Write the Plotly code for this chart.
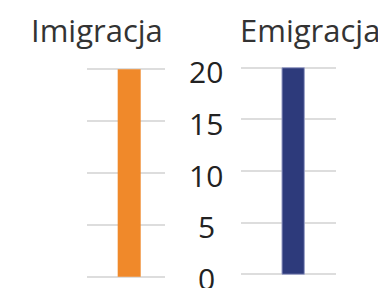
import plotly.graph_objects as go

panels = ["Imigracja", "Emigracja"]
values = [20, 20]
colors = ["#F0892A", "#2D3A7B"]
tick_vals = [0, 5, 10, 15, 20]
tick_labels = ["0", "5", "10", "15", "20"]

# page body has an 8px margin, so the figure is drawn 8px in from the window
W, H = 378, 280
fig = go.Figure()

fig.add_trace(go.Bar(x=[0], y=[values[0]], marker=dict(color=colors[0], line=dict(width=0)),
                     width=0.295, xaxis="x", yaxis="y", hoverinfo="skip", name=panels[0]))
fig.add_trace(go.Bar(x=[0], y=[values[1]], marker=dict(color=colors[1], line=dict(width=1, color="#9aa0c8")),
                     width=0.235, xaxis="x2", yaxis="y2", hoverinfo="skip", name=panels[1]))

grid = dict(showgrid=True, gridcolor="#DDDDDD", gridwidth=1.5, zeroline=False,
            showticklabels=False, ticks="", showline=False, range=[-0.1, 20.1],
            tickvals=tick_vals, layer="below traces")
xcommon = dict(showgrid=False, zeroline=False, showticklabels=False, ticks="", showline=False)

fig.update_layout(
    width=W, height=H,
    margin=dict(l=0, r=0, t=0, b=0),
    paper_bgcolor="white", plot_bgcolor="white",
    showlegend=False,
    font=dict(family="Open Sans", color="#333333"),
    xaxis=dict(domain=[79 / W, 157 / W], range=[-0.541, 0.459], anchor="y", **xcommon),
    xaxis2=dict(domain=[233 / W, 328 / W], range=[-0.549, 0.451], anchor="y2", **xcommon),
    yaxis=dict(domain=[(H - 269.7) / H, (H - 60.3) / H], anchor="x", **grid),
    yaxis2=dict(domain=[(H - 267.3) / H, (H - 58.7) / H], anchor="x2", **grid),
)

annotations = []
for i, name in enumerate(panels):
    annotations.append(dict(text=name, xref="paper", yref="paper",
                            x=[89 / W, 302 / W][i], y=1, xanchor="center", yanchor="top",
                            borderpad=0, showarrow=False, font=dict(size=31, color="#333333")))
for v, lab in zip(tick_vals, tick_labels):
    annotations.append(dict(text=lab, xref="paper", yref="y", x=198 / W, y=v,
                            xanchor="center", yanchor="middle", yshift=-2,
                            showarrow=False, font=dict(size=30, color="#222222")))
fig.update_layout(annotations=annotations)

fig.write_html("out.html")
